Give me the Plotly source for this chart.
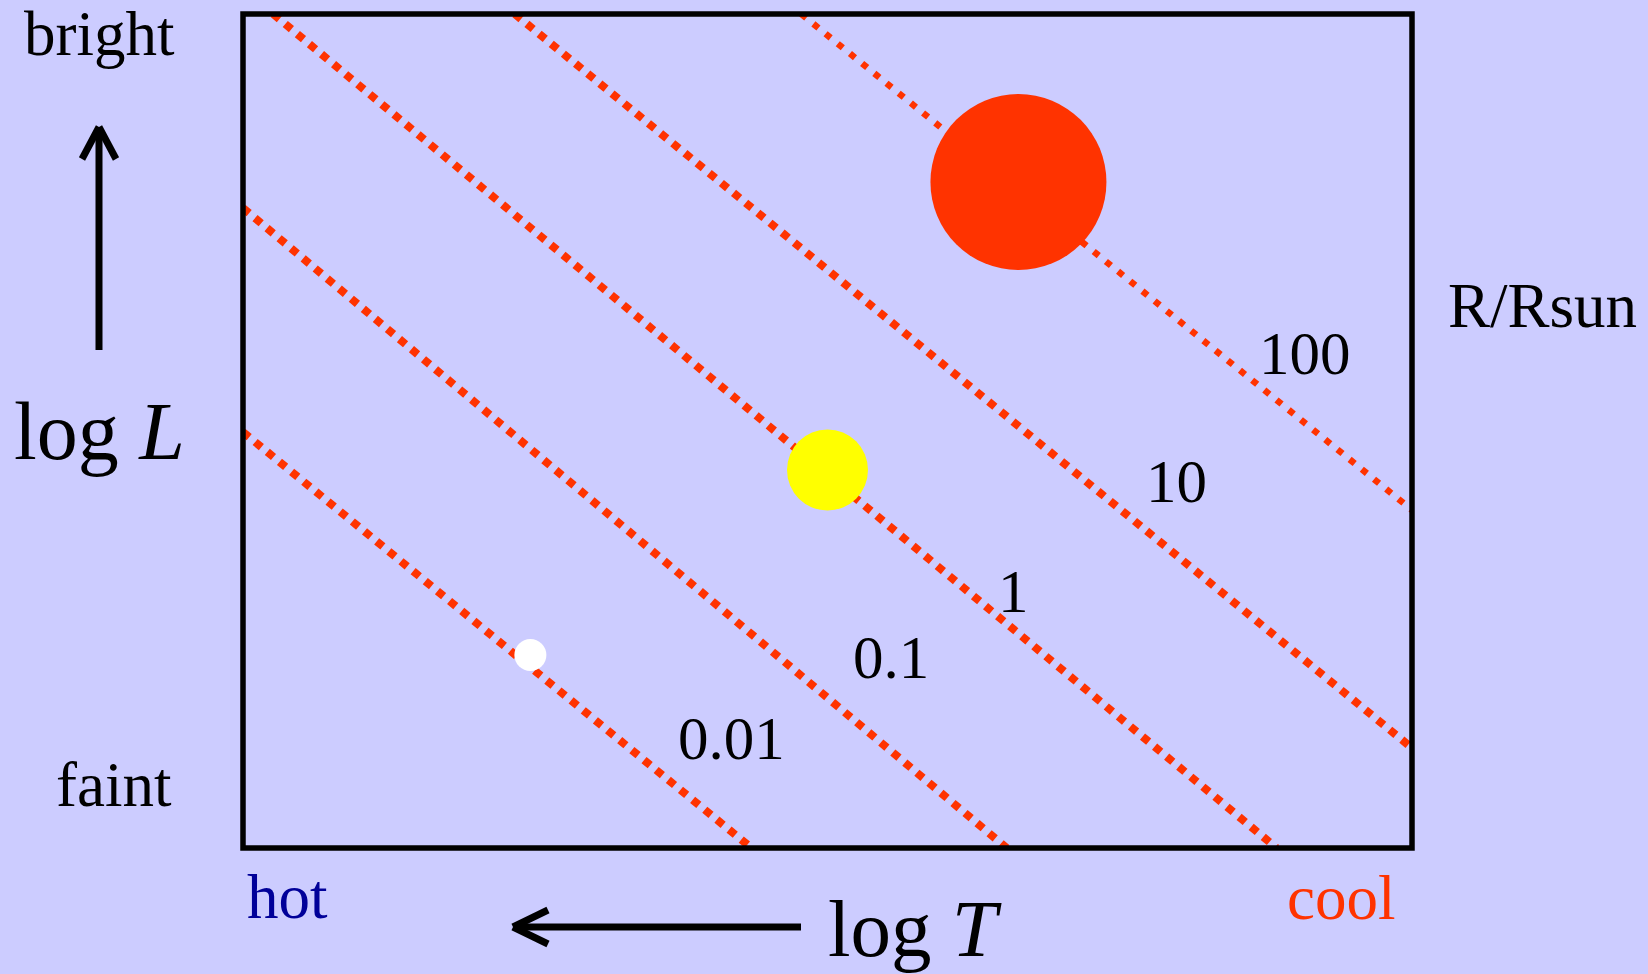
import plotly.graph_objects as go

# ---- data ----
# iso-radius lines: log T (x) and log L (y) end points
radius_labels = ["100", "10", "1", "0.1", "0.01"]
line_x0 = [4.027, 4.321, 4.569, 4.600, 4.600]
line_y0 = [5.000, 5.000, 5.000, 3.139, 0.990]
line_x1 = [3.400, 3.400, 3.539, 3.816, 4.078]
line_y1 = [0.242, -2.041, -3.000, -3.000, -3.000]

# label positions for the radius values
label_x = [3.510, 3.642, 3.809, 3.935, 4.099]
label_y = [1.739, 0.520, -0.544, -1.177, -1.945]

# stars: red giant, sun, white dwarf
star_names = ["red giant", "Sun", "white dwarf"]
star_logT = [3.804, 4.000, 4.305]
star_logL = [3.388, 0.626, -1.149]
star_size = [176, 81, 32]
star_color = ["#FF3300", "#FFFF00", "#FFFFFF"]

X_RANGE = [4.6, 3.4]
Y_RANGE = [-3.0, 5.0]

# ---- layout geometry ----
W, H = 1648, 974
ML, MR, MT, MB = 243, 236, 14, 126
PW = W - ML - MR
PH = H - MT - MB


def px(x):
    return (x - ML) / PW


def py(y):
    return 1 - (y - MT) / PH


BG = "#CCCCFF"
RED = "#FF3300"
FONT = "Liberation Serif, Times New Roman, serif"

fig = go.Figure()

widths = [6.5, 8, 8, 8, 8]
dashes = ["6.5px,9.2px", "8px,7.7px", "8px,7.7px", "8px,7.7px", "8px,7.7px"]
for i in range(len(radius_labels)):
    fig.add_trace(go.Scatter(
        x=[line_x0[i], line_x1[i]], y=[line_y0[i], line_y1[i]],
        mode="lines",
        line=dict(color=RED, width=widths[i], dash=dashes[i]),
        showlegend=False, hoverinfo="skip"))

fig.add_trace(go.Scatter(
    x=star_logT, y=star_logL, mode="markers",
    marker=dict(size=star_size, color=star_color, opacity=1, line=dict(width=0)),
    text=star_names, showlegend=False, hoverinfo="text"))

annotations = []
for i, lab in enumerate(radius_labels):
    annotations.append(dict(x=label_x[i], y=label_y[i], xref="x", yref="y",
                            text=lab, showarrow=False,
                            xanchor="center", yanchor="middle",
                            font=dict(family=FONT, size=61, color="black")))

outer = [
    ("bright", 99, 34, 63, "black"),
    ("log <i>L</i>", 99, 431, 82, "black"),
    ("faint", 114, 785, 63, "black"),
    ("hot", 287, 897, 63, "#000099"),
    ("cool", 1341, 898, 63, RED),
    ("log <i>T</i>", 915, 929, 81, "black"),
    ("R/Rsun", 1542, 306, 63, "black"),
]
for txt, x, y, fs, col in outer:
    annotations.append(dict(x=px(x), y=py(y), xref="paper", yref="paper",
                            text=txt, showarrow=False,
                            xanchor="center", yanchor="middle",
                            font=dict(family=FONT, size=fs, color=col)))

shapes = [
    dict(type="rect", xref="paper", yref="paper", x0=0, x1=1, y0=0, y1=1,
         line=dict(color="black", width=5.5), layer="above"),
]


def seg(x0, y0, x1, y1, w=7):
    return dict(type="line", xref="paper", yref="paper",
                x0=px(x0), y0=py(y0), x1=px(x1), y1=py(y1),
                line=dict(color="black", width=w))


# up arrow (log L)
shapes += [seg(99, 350, 99, 130), seg(82, 159, 99, 127), seg(116, 159, 99, 127)]
# left arrow (log T)
shapes += [seg(801, 927, 516, 927), seg(548, 910, 513, 927), seg(548, 944, 513, 927)]

fig.update_layout(
    width=W, height=H,
    margin=dict(l=ML, r=MR, t=MT, b=MB, pad=0),
    paper_bgcolor=BG, plot_bgcolor=BG,
    xaxis=dict(range=X_RANGE, visible=False, fixedrange=True),
    yaxis=dict(range=Y_RANGE, visible=False, fixedrange=True),
    annotations=annotations, shapes=shapes,
    showlegend=False,
)

fig.write_html(
    "out.html",
    config={"displayModeBar": False},
    post_script="document.body.style.margin='0';document.body.style.background='%s';" % BG,
)
